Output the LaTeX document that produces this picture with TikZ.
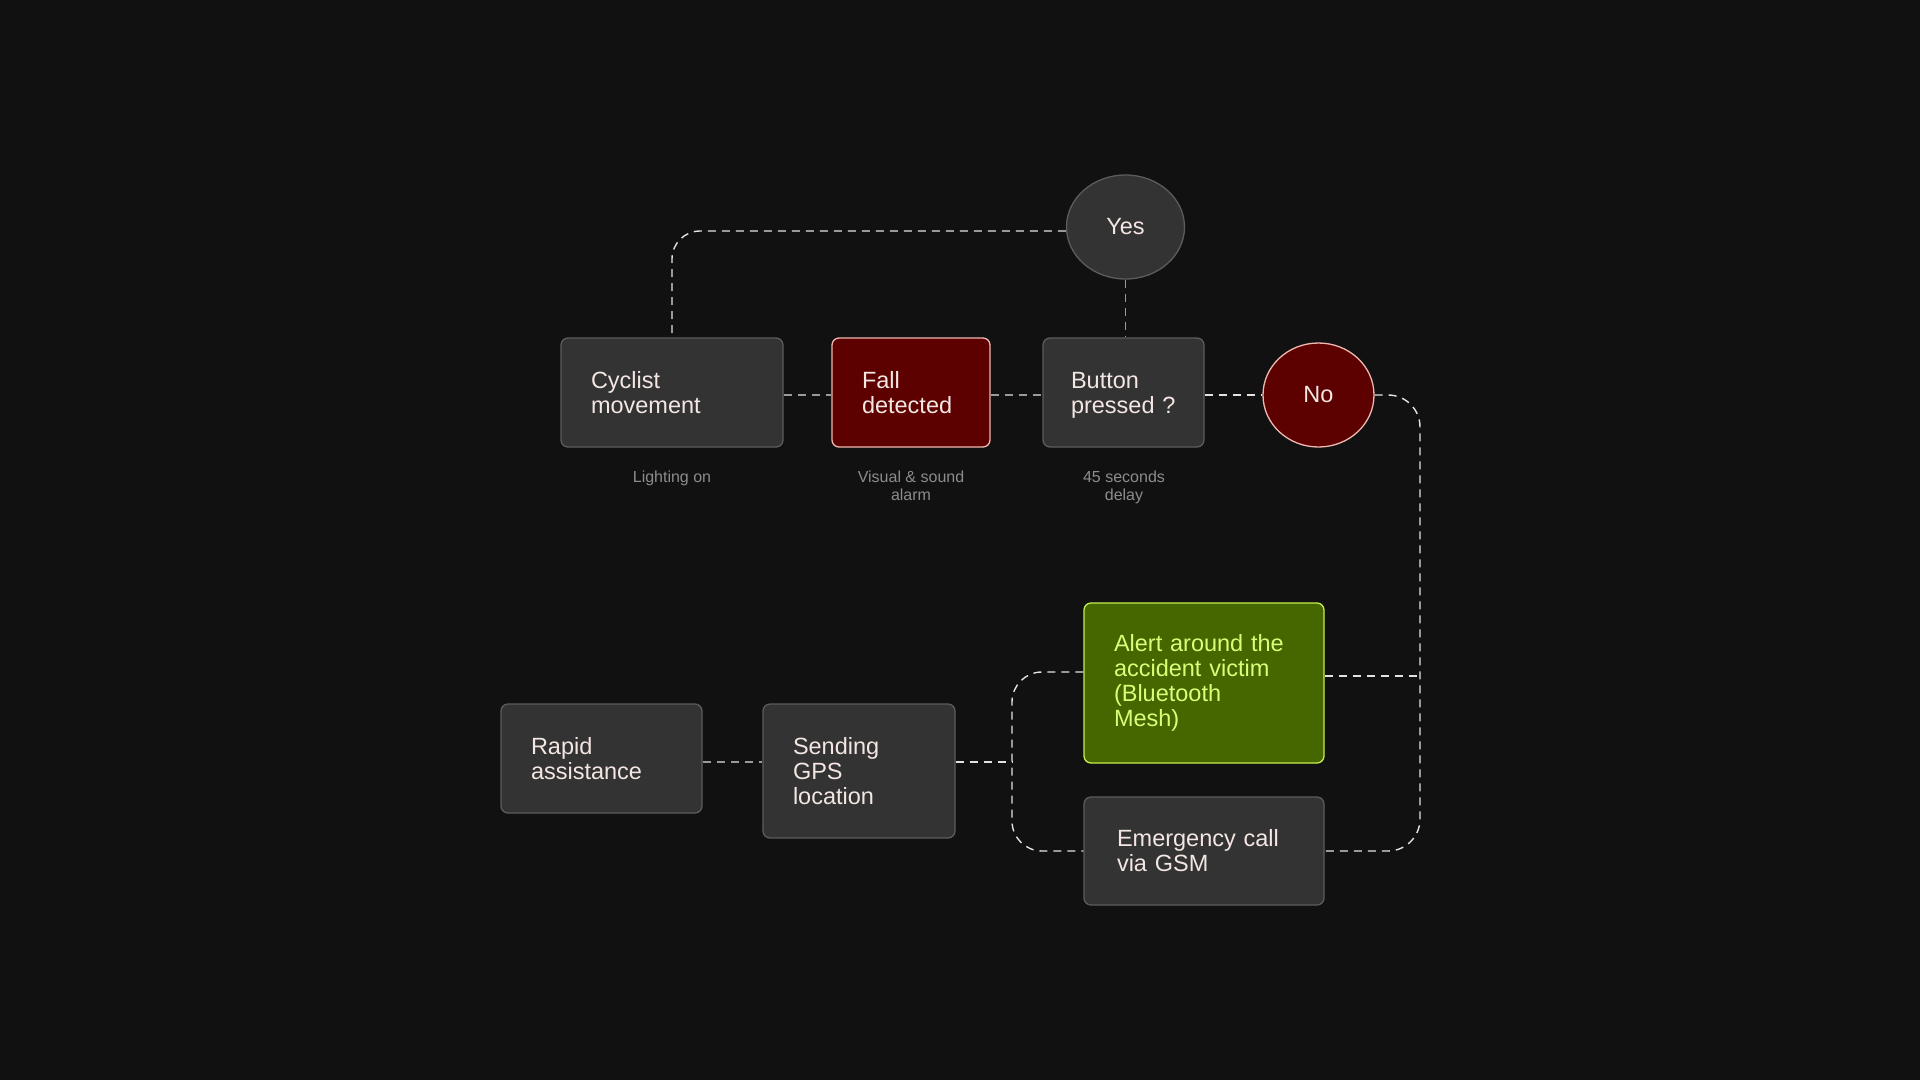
\documentclass[tikz,border=0pt]{standalone}
\usepackage{fontspec}
\setmainfont{Liberation Sans}
\usetikzlibrary{shapes.geometric,calc}
\definecolor{bg}{HTML}{111111}
\definecolor{boxfill}{HTML}{333333}
\definecolor{boxline}{HTML}{5C5C5C}
\definecolor{txt}{HTML}{F3E6E3}
\definecolor{redfill}{HTML}{5C0000}
\definecolor{redline}{HTML}{F0B8B0}
\definecolor{greenfill}{HTML}{466600}
\definecolor{greenline}{HTML}{C5F04A}
\definecolor{greentxt}{HTML}{D8FF78}
\definecolor{labgrey}{HTML}{8C8C8C}
\definecolor{conwhite}{HTML}{E2E2E2}
\definecolor{congrey}{HTML}{9A9A9A}
\tikzset{
  box/.style={rectangle, rounded corners=7pt, draw=boxline, fill=boxfill, line width=1.3pt,
    text=txt, font=\fontsize{23.5}{25}\selectfont, align=left, inner xsep=30pt, inner ysep=0pt},
  redbox/.style={box, draw=redline, fill=redfill},
  greenbox/.style={box, draw=greenline, fill=greenfill, text=greentxt},
  bubble/.style={ellipse, draw=boxline, fill=boxfill, line width=1.3pt, inner sep=0pt,
    text=txt, font=\fontsize{23.5}{25}\selectfont},
  redbubble/.style={bubble, draw=redline, fill=redfill},
  sublabel/.style={text=labgrey, font=\fontsize{16}{17.5}\selectfont, align=center, inner sep=0pt, anchor=north},
  conW/.style={draw=conwhite, line width=1.4pt, dash pattern=on 8pt off 6pt},
  conG/.style={draw=congrey, line width=1.4pt, dash pattern=on 8pt off 6pt}
}
\begin{document}
\begin{tikzpicture}[x=1pt,y=-1pt]
\fill[bg] (0,0) rectangle (1920,1080);
\useasboundingbox (0,0) rectangle (1920,1080);

% nodes
\node[box, text width=162pt, minimum height=109pt] (cyc) at (672,392.5) {Cyclist\\movement};
\node[redbox, text width=98pt, minimum height=109pt] (fall) at (911,392.5) {Fall\\detected};
\node[box, inner xsep=28pt, text width=105pt, minimum height=109pt] (btn) at (1123.5,392.5) {Button\\\raisebox{0pt}[\height][0pt]{pressed ?}};
\node[bubble, minimum width=118pt, minimum height=104pt] (yes) at (1125.5,227) {Yes};
\node[redbubble, minimum width=111pt, minimum height=104pt] (no) at (1318.5,395) {No};

\node[box, text width=141pt, minimum height=109pt] (rapid) at (601.5,758.5) {Rapid\\assistance};
\node[box, text width=132pt, minimum height=134pt] (send) at (859,771) {Sending\\GPS\\location};
\node[greenbox, text width=180pt, minimum height=160pt] (alert) at (1204,683) {Alert around the\\accident victim\\(Bluetooth\\Mesh)};
\node[box, inner xsep=33pt, text width=174pt, minimum height=108pt] (emer) at (1204,851) {Emergency call\\via GSM};

% sub labels
\node[sublabel] (l1) at (672,471) {Lighting on};
\node[sublabel] (l2) at (911,471) {Visual \& sound\\alarm};
\node[sublabel] (l3) at (1124,471) {45 seconds\\delay};

% helper coordinates
\coordinate (rx) at (1420,400);
\coordinate (bx) at (1012,762);
\coordinate (ae) at ([yshift=7pt]alert.east);
\coordinate (aw) at ([yshift=11pt]alert.west);
\coordinate (yw) at ([yshift=-4pt]yes.west);

% connectors
\draw[conG] (cyc.east |- no.west) -- (fall.west |- no.west);
\draw[conG] (fall.east |- no.west) -- (btn.west |- no.west);
\draw[conW] (btn.east |- no.west) -- (no.west);
\draw[conG] (yes.south) -- (yes.south |- btn.north);
\draw[conW, rounded corners=28pt] (yw) -| (cyc.north);
\draw[conW, rounded corners=32pt] (no.east) -| (rx |- emer.east) -- (emer.east);
\draw[conW] (ae) -- (rx |- ae);
\draw[conG] (rapid.east |- bx) -- (send.west |- bx);
\draw[conW] (send.east |- bx) -- (bx);
\draw[conW, rounded corners=30pt] (aw) -| (bx |- emer.west) -- (emer.west);
\end{tikzpicture}
\end{document}
